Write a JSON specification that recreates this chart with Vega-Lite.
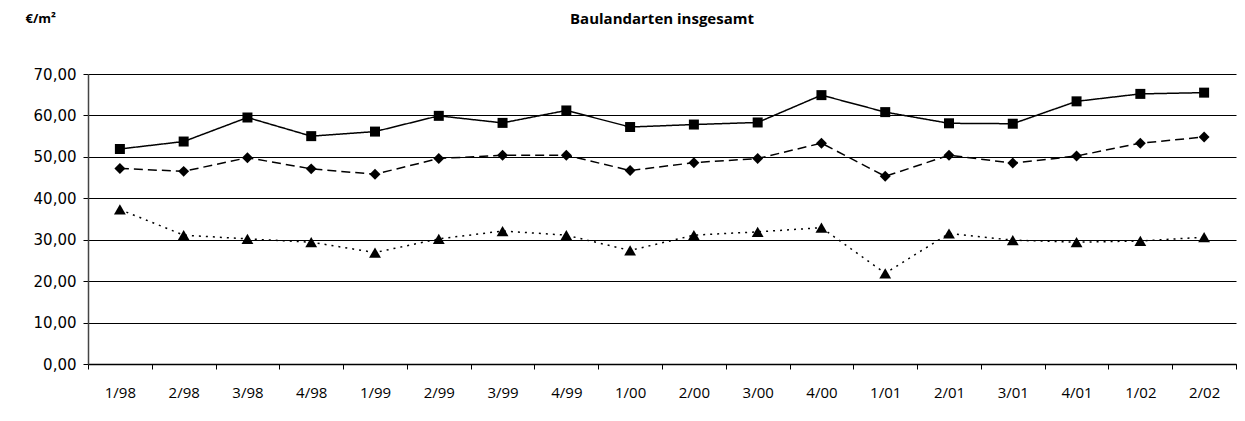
{
  "$schema": "https://vega.github.io/schema/vega-lite/v6.json",
  "width": 1148,
  "height": 290,
  "autosize": {"type": "none"},
  "padding": {"left": 88, "top": 74, "right": 9, "bottom": 57},
  "background": "white",
  "title": {"text": "Baulandarten insgesamt", "fontSize": 15, "font": "Open Sans", "fontWeight": "bold", "frame": "group", "offset": -22, "baseline": "middle", "anchor": "middle", "color": "#000"},
  "config": {"view": {"stroke": null}, "font": "Open Sans"},
  "data": {"values": [
    {"q": "1/98", "s": "A", "v": 51.9}, {"q": "2/98", "s": "A", "v": 53.7}, {"q": "3/98", "s": "A", "v": 59.5}, {"q": "4/98", "s": "A", "v": 55.0},
    {"q": "1/99", "s": "A", "v": 56.1}, {"q": "2/99", "s": "A", "v": 59.9}, {"q": "3/99", "s": "A", "v": 58.2}, {"q": "4/99", "s": "A", "v": 61.2},
    {"q": "1/00", "s": "A", "v": 57.2}, {"q": "2/00", "s": "A", "v": 57.8}, {"q": "3/00", "s": "A", "v": 58.3}, {"q": "4/00", "s": "A", "v": 64.9},
    {"q": "1/01", "s": "A", "v": 60.8}, {"q": "2/01", "s": "A", "v": 58.1}, {"q": "3/01", "s": "A", "v": 58.0}, {"q": "4/01", "s": "A", "v": 63.4},
    {"q": "1/02", "s": "A", "v": 65.2}, {"q": "2/02", "s": "A", "v": 65.5},
    {"q": "1/98", "s": "B", "v": 47.2}, {"q": "2/98", "s": "B", "v": 46.5}, {"q": "3/98", "s": "B", "v": 49.8}, {"q": "4/98", "s": "B", "v": 47.1},
    {"q": "1/99", "s": "B", "v": 45.8}, {"q": "2/99", "s": "B", "v": 49.6}, {"q": "3/99", "s": "B", "v": 50.4}, {"q": "4/99", "s": "B", "v": 50.4},
    {"q": "1/00", "s": "B", "v": 46.7}, {"q": "2/00", "s": "B", "v": 48.6}, {"q": "3/00", "s": "B", "v": 49.6}, {"q": "4/00", "s": "B", "v": 53.3},
    {"q": "1/01", "s": "B", "v": 45.3}, {"q": "2/01", "s": "B", "v": 50.4}, {"q": "3/01", "s": "B", "v": 48.5}, {"q": "4/01", "s": "B", "v": 50.2},
    {"q": "1/02", "s": "B", "v": 53.3}, {"q": "2/02", "s": "B", "v": 54.8},
    {"q": "1/98", "s": "C", "v": 37.3}, {"q": "2/98", "s": "C", "v": 31.1}, {"q": "3/98", "s": "C", "v": 30.2}, {"q": "4/98", "s": "C", "v": 29.4},
    {"q": "1/99", "s": "C", "v": 26.9}, {"q": "2/99", "s": "C", "v": 30.2}, {"q": "3/99", "s": "C", "v": 32.1}, {"q": "4/99", "s": "C", "v": 31.1},
    {"q": "1/00", "s": "C", "v": 27.4}, {"q": "2/00", "s": "C", "v": 31.1}, {"q": "3/00", "s": "C", "v": 31.9}, {"q": "4/00", "s": "C", "v": 32.9},
    {"q": "1/01", "s": "C", "v": 21.9}, {"q": "2/01", "s": "C", "v": 31.5}, {"q": "3/01", "s": "C", "v": 29.9}, {"q": "4/01", "s": "C", "v": 29.4},
    {"q": "1/02", "s": "C", "v": 29.7}, {"q": "2/02", "s": "C", "v": 30.6}
  ]},
  "encoding": {
    "x": {"field": "q", "type": "ordinal", "sort": null,
      "scale": {"paddingInner": 0, "paddingOuter": 0},
      "axis": {"title": null, "labelAngle": 0, "labelFontSize": 15, "labelColor": "#000", "labelPadding": 16,
        "tickBand": "extent", "tickSize": 5, "tickColor": "#000", "domainColor": "#000", "domainWidth": 1.5, "grid": false}},
    "y": {"field": "v", "type": "quantitative",
      "scale": {"domain": [0, 70], "nice": false},
      "axis": {"values": [0, 10, 20, 30, 40, 50, 60, 70], "labelExpr": "replace(format(datum.value, '.2f'), '.', ',')",
        "labelFont": "DejaVu Sans", "labelFontSize": 15, "labelColor": "#000", "labelPadding": 7, "tickSize": 5, "tickColor": "#000",
        "domainColor": "#444", "domainWidth": 1.5, "grid": true, "gridColor": "#000", "gridWidth": 1,
        "title": "€/m²", "titleAngle": 0, "titleX": -63, "titleY": -56, "titleAlign": "left", "titleBaseline": "middle",
        "titleFontSize": 13, "titleFontWeight": "bold", "titleColor": "#000"}},
    "strokeDash": {"field": "s", "type": "nominal", "legend": null,
      "scale": {"domain": ["A", "B", "C"], "range": [[1, 0], [9, 5], [2, 5]]}},
    "shape": {"field": "s", "type": "nominal", "legend": null,
      "scale": {"domain": ["A", "B", "C"], "range": ["square", "diamond", "triangle-up"]}}
  },
  "layer": [
    {"mark": {"type": "line", "color": "#000", "strokeWidth": 1.5}},
    {"mark": {"type": "point", "filled": true, "color": "#000", "opacity": 1},
     "encoding": {"size": {"field": "s", "type": "nominal", "legend": null,
      "scale": {"domain": ["A", "B", "C"], "range": [100, 140, 150]}}}}
  ]
}
